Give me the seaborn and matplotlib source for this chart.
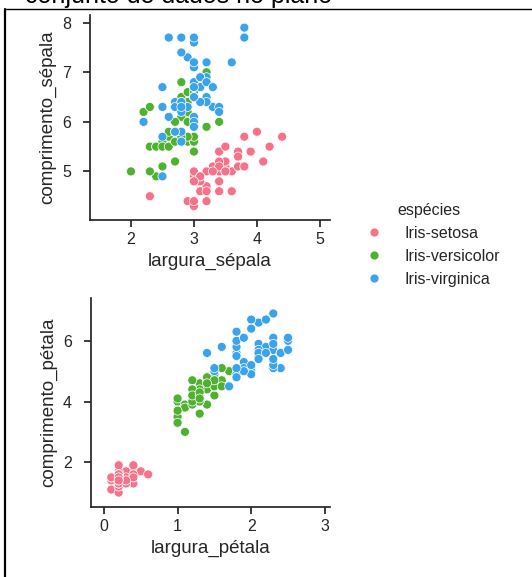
import matplotlib
matplotlib.use("Agg")
import matplotlib.pyplot as plt
import seaborn as sns
import pandas as pd
from matplotlib.lines import Line2D

# Iris data (comprimento_sépala, largura_sépala, comprimento_pétala, largura_pétala)
comprimento_sepala = [
    5.1,4.9,4.7,4.6,5.0,5.4,4.6,5.0,4.4,4.9,5.4,4.8,4.8,4.3,5.8,5.7,5.4,5.1,5.7,5.1,
    5.4,5.1,4.6,5.1,4.8,5.0,5.0,5.2,5.2,4.7,4.8,5.4,5.2,5.5,4.9,5.0,5.5,4.9,4.4,5.1,
    5.0,4.5,4.4,5.0,5.1,4.8,5.1,4.6,5.3,5.0,
    7.0,6.4,6.9,5.5,6.5,5.7,6.3,4.9,6.6,5.2,5.0,5.9,6.0,6.1,5.6,6.7,5.6,5.8,6.2,5.6,
    5.9,6.1,6.3,6.1,6.4,6.6,6.8,6.7,6.0,5.7,5.5,5.5,5.8,6.0,5.4,6.0,6.7,6.3,5.6,5.5,
    5.5,6.1,5.8,5.0,5.6,5.7,5.7,6.2,5.1,5.7,
    6.3,5.8,7.1,6.3,6.5,7.6,4.9,7.3,6.7,7.2,6.5,6.4,6.8,5.7,5.8,6.4,6.5,7.7,7.7,6.0,
    6.9,5.6,7.7,6.3,6.7,7.2,6.2,6.1,6.4,7.2,7.4,7.9,6.4,6.3,6.1,7.7,6.3,6.4,6.0,6.9,
    6.7,6.9,5.8,6.8,6.7,6.7,6.3,6.5,6.2,5.9]
largura_sepala = [
    3.5,3.0,3.2,3.1,3.6,3.9,3.4,3.4,2.9,3.1,3.7,3.4,3.0,3.0,4.0,4.4,3.9,3.5,3.8,3.8,
    3.4,3.7,3.6,3.3,3.4,3.0,3.4,3.5,3.4,3.2,3.1,3.4,4.1,4.2,3.1,3.2,3.5,3.1,3.0,3.4,
    3.5,2.3,3.2,3.5,3.8,3.0,3.8,3.2,3.7,3.3,
    3.2,3.2,3.1,2.3,2.8,2.8,3.3,2.4,2.9,2.7,2.0,3.0,2.2,2.9,2.9,3.1,3.0,2.7,2.2,2.5,
    3.2,2.8,2.5,2.8,2.9,3.0,2.8,3.0,2.9,2.6,2.4,2.4,2.7,2.7,3.0,3.4,3.1,2.3,3.0,2.5,
    2.6,3.0,2.6,2.3,2.7,3.0,2.9,2.9,2.5,2.8,
    3.3,2.7,3.0,2.9,3.0,3.0,2.5,2.9,2.5,3.6,3.2,2.7,3.0,2.5,2.8,3.2,3.0,3.8,2.6,2.2,
    3.2,2.8,2.8,2.7,3.3,3.2,2.8,3.0,2.8,3.0,2.8,3.8,2.8,2.8,2.6,3.0,3.4,3.1,3.0,3.1,
    3.1,3.1,2.7,3.2,3.3,3.0,2.5,3.0,3.4,3.0]
comprimento_petala = [
    1.4,1.4,1.3,1.5,1.4,1.7,1.4,1.5,1.4,1.5,1.5,1.6,1.4,1.1,1.2,1.5,1.3,1.4,1.7,1.5,
    1.7,1.5,1.0,1.7,1.9,1.6,1.6,1.5,1.4,1.6,1.6,1.5,1.5,1.4,1.5,1.2,1.3,1.5,1.3,1.5,
    1.3,1.3,1.3,1.6,1.9,1.4,1.6,1.4,1.5,1.4,
    4.7,4.5,4.9,4.0,4.6,4.5,4.7,3.3,4.6,3.9,3.5,4.2,4.0,4.7,3.6,4.4,4.5,4.1,4.5,3.9,
    4.8,4.0,4.9,4.7,4.3,4.4,4.8,5.0,4.5,3.5,3.8,3.7,3.9,5.1,4.5,4.5,4.7,4.4,4.1,4.0,
    4.4,4.6,4.0,3.3,4.2,4.2,4.2,4.3,3.0,4.1,
    6.0,5.1,5.9,5.6,5.8,6.6,4.5,6.3,5.8,6.1,5.1,5.3,5.5,5.0,5.1,5.3,5.5,6.7,6.9,5.0,
    5.7,4.9,6.7,4.9,5.7,6.0,4.8,4.9,5.6,5.8,6.1,6.4,5.6,5.1,5.6,6.1,5.6,5.5,4.8,5.4,
    5.6,5.1,5.1,5.9,5.7,5.2,5.0,5.2,5.4,5.1]
largura_petala = [
    0.2,0.2,0.2,0.2,0.2,0.4,0.3,0.2,0.2,0.1,0.2,0.2,0.1,0.1,0.2,0.4,0.4,0.3,0.3,0.3,
    0.2,0.4,0.2,0.5,0.2,0.2,0.4,0.2,0.2,0.2,0.2,0.4,0.1,0.2,0.1,0.2,0.2,0.1,0.2,0.2,
    0.3,0.3,0.2,0.6,0.4,0.3,0.2,0.2,0.2,0.2,
    1.4,1.5,1.5,1.3,1.5,1.3,1.6,1.0,1.3,1.4,1.0,1.5,1.0,1.4,1.3,1.4,1.5,1.0,1.5,1.1,
    1.8,1.3,1.5,1.2,1.3,1.4,1.4,1.7,1.5,1.0,1.1,1.0,1.2,1.6,1.5,1.6,1.5,1.3,1.3,1.3,
    1.2,1.4,1.2,1.0,1.3,1.2,1.3,1.3,1.1,1.3,
    2.5,1.9,2.1,1.8,2.2,2.1,1.7,1.8,1.8,2.5,2.0,1.9,2.1,2.0,2.4,2.3,1.8,2.2,2.3,1.5,
    2.3,2.0,2.0,1.8,2.1,1.8,1.8,1.8,2.1,1.6,1.9,2.0,2.2,1.5,1.4,2.3,2.4,1.8,1.8,2.1,
    2.4,2.3,1.9,2.3,2.5,2.3,1.9,2.0,2.3,1.8]
especies_nomes = ["Iris-setosa", "Iris-versicolor", "Iris-virginica"]
especies = [especies_nomes[0]] * 50 + [especies_nomes[1]] * 50 + [especies_nomes[2]] * 50

df = pd.DataFrame({
    "comprimento_sépala": comprimento_sepala,
    "largura_sépala": largura_sepala,
    "comprimento_pétala": comprimento_petala,
    "largura_pétala": largura_petala,
    "espécies": especies,
})

sns.set_theme(style="ticks")
plt.rcParams['font.family'] = ['Liberation Sans', 'DejaVu Sans']

W, H = 532, 577
fig = plt.figure(figsize=(W / 100, H / 100), dpi=100)

ax1 = fig.add_axes([90 / W, 1 - 220 / H, 240 / W, 205 / H])
ax2 = fig.add_axes([90.7 / W, 1 - 507 / H, 239.3 / W, 209 / H])

palette = sns.color_palette("husl", 3)

sns.scatterplot(data=df, x="largura_sépala", y="comprimento_sépala", hue="espécies",
                hue_order=especies_nomes, palette=palette, s=42, ax=ax1, legend=True)
sns.scatterplot(data=df, x="largura_pétala", y="comprimento_pétala", hue="espécies",
                hue_order=especies_nomes, palette=palette, s=42, ax=ax2, legend=False)

ax1.set_xlim(1.35, 5.16)
ax1.set_ylim(4.02, 8.155)
ax1.set_xticks([2, 3, 4, 5])
ax1.set_yticks([5, 6, 7, 8])
ax2.set_xlim(-0.18, 3.07)
ax2.set_ylim(0.525, 7.41)
ax2.set_xticks([0, 1, 2, 3])
ax2.set_yticks([2, 4, 6])

for ax in (ax1, ax2):
    sns.despine(ax=ax)
    ax.tick_params(labelsize=11.5, colors=".15", length=5)
    ax.tick_params(axis="y", pad=8.5)
    ax.xaxis.label.set_size(13.5)
    ax.yaxis.label.set_size(13.5)

handles, labels = ax1.get_legend_handles_labels()
ax1.get_legend().remove()
leg = fig.legend(handles, labels, title="espécies", frameon=False,
                 loc="center left", bbox_to_anchor=(344 / W, 1 - 245 / H),
                 fontsize=11.5, title_fontsize=11.5, handletextpad=0.9)

# screenshot frame and cut-off title
fig.add_artist(Line2D([5 / W, 1], [1 - 9 / H, 1 - 9 / H], transform=fig.transFigure,
                      color="black", lw=1.0))
fig.add_artist(Line2D([5 / W, 5 / W], [0, 1 - 9 / H], transform=fig.transFigure,
                      color="black", lw=1.6))
fig.text(25 / W, 1 - 3.5 / H, "conjunto de dados no plano", fontsize=18, color="black",
         va="baseline", ha="left")

fig.savefig("out.png", dpi=100)
